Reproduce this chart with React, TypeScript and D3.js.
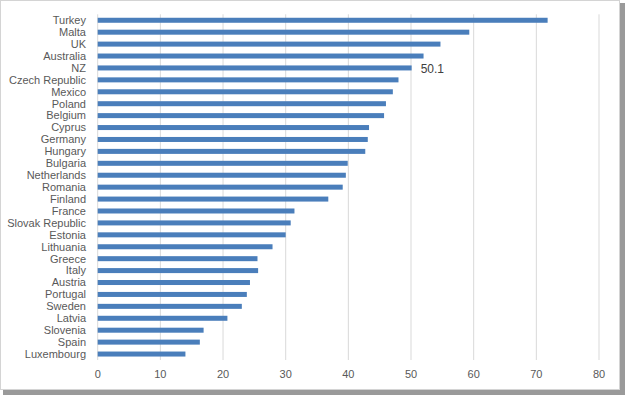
import React, { useRef, useEffect } from 'react';
import * as d3 from 'd3';

// countries, top to bottom
const countries = [
  'Turkey', 'Malta', 'UK', 'Australia', 'NZ', 'Czech Republic', 'Mexico', 'Poland',
  'Belgium', 'Cyprus', 'Germany', 'Hungary', 'Bulgaria', 'Netherlands', 'Romania',
  'Finland', 'France', 'Slovak Republic', 'Estonia', 'Lithuania', 'Greece', 'Italy',
  'Austria', 'Portugal', 'Sweden', 'Latvia', 'Slovenia', 'Spain', 'Luxembourg',
];
const values = [
  71.8, 59.3, 54.7, 52.0, 50.1, 48.0, 47.1, 46.0,
  45.7, 43.3, 43.1, 42.7, 39.9, 39.6, 39.1,
  36.8, 31.4, 30.8, 30.0, 27.9, 25.5, 25.6,
  24.3, 23.8, 23.0, 20.7, 16.9, 16.3, 14.0,
];
const xTicks = [0, 10, 20, 30, 40, 50, 60, 70, 80];
const labelled = 'NZ';

const W = 625;
const H = 395;

const App = () => {
  const svgRef = useRef<SVGSVGElement>(null);

  useEffect(() => {
    const svg = d3.select(svgRef.current);
    svg.selectAll('*').remove();

    const left = 97.7, right = 599, top = 14.3, bottom = 360;
    const font = "'Liberation Sans', Arial, sans-serif";

    // frame with drop shadow like the screenshot
    svg.append('rect').attr('x', 5).attr('y', 5).attr('width', W - 5).attr('height', H - 5).attr('fill', '#555');
    svg.append('rect').attr('x', 3).attr('y', 3).attr('width', W - 3).attr('height', H - 3).attr('fill', '#9a9a9a');
    svg.append('rect').attr('x', 0.5).attr('y', 0.5).attr('width', 619).attr('height', 389)
      .attr('fill', '#fff').attr('stroke', '#d4d4d4');

    const x = d3.scaleLinear().domain([0, 80]).range([left, right]);
    const y = d3.scaleBand().domain(countries).range([top, bottom]).paddingInner(0.58).paddingOuter(0.29);

    // gridlines
    svg.append('g')
      .selectAll('line')
      .data(xTicks)
      .join('line')
      .attr('x1', d => x(d)).attr('x2', d => x(d))
      .attr('y1', top).attr('y2', bottom)
      .attr('stroke', '#d9d9d9')
      .attr('stroke-width', 1);

    // bars
    svg.append('g')
      .selectAll('rect')
      .data(countries)
      .join('rect')
      .attr('x', x(0))
      .attr('y', d => y(d)!)
      .attr('width', (d, i) => x(values[i]) - x(0))
      .attr('height', y.bandwidth())
      .attr('fill', '#4a7ebb');

    // category labels
    svg.append('g')
      .selectAll('text')
      .data(countries)
      .join('text')
      .attr('x', 86)
      .attr('y', d => y(d)! + y.bandwidth() / 2)
      .attr('dy', '0.35em')
      .attr('text-anchor', 'end')
      .attr('font-family', font)
      .attr('font-size', 11)
      .attr('fill', '#595959')
      .text(d => d);

    // x tick labels
    svg.append('g')
      .selectAll('text')
      .data(xTicks)
      .join('text')
      .attr('x', d => x(d))
      .attr('y', 374)
      .attr('dy', '0.35em')
      .attr('text-anchor', 'middle')
      .attr('font-family', font)
      .attr('font-size', 11)
      .attr('fill', '#595959')
      .text(d => d);

    // data label for NZ
    const idx = countries.indexOf(labelled);
    svg.append('text')
      .attr('x', x(values[idx]) + 9)
      .attr('y', y(labelled)! + y.bandwidth() / 2 + 1)
      .attr('dy', '0.35em')
      .attr('font-family', font)
      .attr('font-size', 12)
      .attr('fill', '#404040')
      .text(values[idx].toFixed(1));
  }, []);

  return (
    <svg
      ref={svgRef}
      width={W}
      height={H}
      style={{ position: 'absolute', left: 0, top: 0 }}
    />
  );
};

export default App;
